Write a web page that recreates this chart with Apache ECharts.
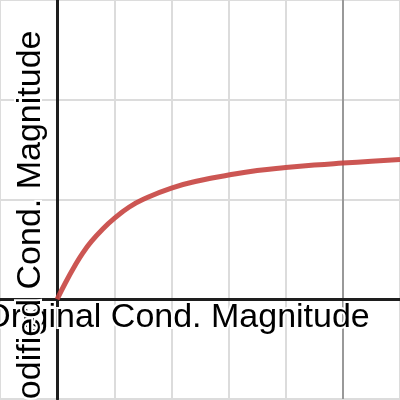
<!DOCTYPE html>
<html>
<head>
<meta charset="utf-8">
<script src="https://cdn.jsdelivr.net/npm/echarts@6/dist/echarts.min.js"></script>
<style>
  html, body { margin: 0; padding: 0; background: #fff; }
  #main { width: 400px; height: 400px; }
</style>
</head>
<body>
<div id="main"></div>
<script>
// curve
var xValues = [0, 0.15, 0.3, 0.45, 0.6, 0.8, 1.0, 1.25, 1.5, 2, 2.5, 3, 3.5, 4, 4.5, 5, 5.5, 6];
var yValues = [0, 0.17, 0.325, 0.465, 0.58, 0.705, 0.81, 0.92, 1.00, 1.115, 1.19, 1.245, 1.29, 1.32, 1.345, 1.365, 1.383, 1.40];
var xTitle = "Original Cond. Magnitude";
var yTitle = "Modified Cond. Magnitude";

var chart = echarts.init(document.getElementById("main"));

var points = [];
for (var i = 0; i < xValues.length; i++) {
  points.push([xValues[i], yValues[i]]);
}

var light = "#dcdcdc";
var dark = "#999999";

var option = {
  animation: false,
  grid: { left: 0, right: 0, top: -1, bottom: 1, containLabel: false },
  xAxis: {
    type: "value",
    min: -1,
    max: 6,
    interval: 1,
    axisLine: { onZero: true, lineStyle: { color: "#1e1e1e", width: 3 } },
    axisTick: { show: false },
    axisLabel: { show: false },
    splitLine: {
      show: true,
      lineStyle: { color: [light, light, light, light, light, light, dark, light], width: 2 }
    }
  },
  yAxis: {
    type: "value",
    min: -1,
    max: 3,
    interval: 1,
    axisLine: { onZero: true, lineStyle: { color: "#1e1e1e", width: 3 } },
    axisTick: { show: false },
    axisLabel: { show: false },
    splitLine: { show: true, lineStyle: { color: light, width: 2 } }
  },
  series: [
    {
      type: "line",
      data: points,
      smooth: 0.5,
      showSymbol: false,
      z: 10,
      lineStyle: { color: "rgba(199,68,64,0.9)", width: 5 }
    }
  ],
  graphic: [
    {
      type: "text",
      x: 177,
      y: 318,
      z: 5,
      style: {
        text: xTitle,
        fontFamily: "Liberation Sans, Arial",
        fontSize: 34,
        fill: "#000",
        stroke: "#fff",
        lineWidth: 4,
        textAlign: "center",
        textVerticalAlign: "middle"
      }
    },
    {
      type: "text",
      x: 31,
      y: 229,
      rotation: Math.PI / 2,
      z: 6,
      style: {
        text: yTitle,
        fontFamily: "Liberation Sans, Arial",
        fontSize: 34,
        fill: "#000",
        stroke: "#fff",
        lineWidth: 4,
        textAlign: "center",
        textVerticalAlign: "middle"
      }
    }
  ]
};

chart.setOption(option);
</script>
</body>
</html>
